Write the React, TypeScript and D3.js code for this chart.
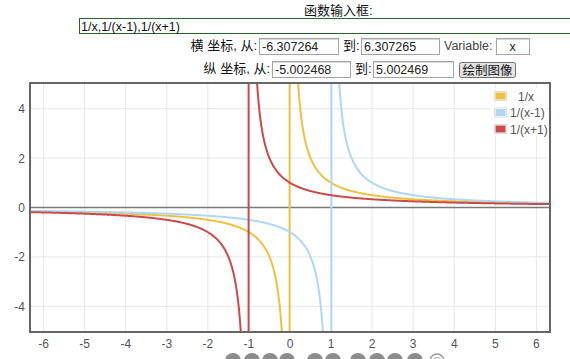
import React from "react";
import * as d3 from "d3";

// function plot settings (as typed in the form)
const functionLabels = ["1/x", "1/(x-1)", "1/(x+1)"];
const functionPoles = [0, 1, -1]; // each series is 1/(x - pole)
const seriesColors = ["#edc240", "#afd8f8", "#cb4b4b"];
const xRange = [-6.307264, 6.307265];
const yRange = [-5.002468, 5.002469];
const xTicks = [-6, -5, -4, -3, -2, -1, 0, 1, 2, 3, 4, 5, 6];
const yTicks = [-4, -2, 0, 2, 4];
const sampleCount = 1200;

const W = 570;
const H = 359;
const plot = { left: 31, right: 549, top: 84, bottom: 331 };
const font = "'Liberation Sans', Arial, 'Noto Sans CJK SC', sans-serif";

const Input = ({ x, y, w, h, text, center }: any) => (
  <g>
    <rect x={x + 0.5} y={y + 0.5} width={w} height={h} fill="#fff" stroke="#a5a5a5" />
    <line x1={x + 1} y1={y + 1.5} x2={x + w} y2={y + 1.5} stroke="#d8d8d8" />
    <text
      x={center ? x + w / 2 : x + 3}
      y={y + h / 2 + 4.5}
      textAnchor={center ? "middle" : "start"}
      fontSize={12.5}
      fill="#222"
    >
      {text}
    </text>
  </g>
);

export default function App() {
  const x = d3.scaleLinear().domain(xRange).range([plot.left, plot.right]);
  const y = d3.scaleLinear().domain(yRange).range([plot.bottom, plot.top]);

  const xs = d3.range(sampleCount + 1).map(
    (i) => xRange[0] + (i * (xRange[1] - xRange[0])) / sampleCount
  );
  const line = d3
    .line<[number, number]>()
    .x((d) => x(d[0]))
    .y((d) => y(Math.max(-1000, Math.min(1000, d[1]))));

  const series = functionPoles.map((p) =>
    xs.map((v) => [v, 1 / (v - p)] as [number, number])
  );

  const navGroups = [
    [233, 252, 270, 287],
    [315, 333],
    [358, 377, 395, 415],
  ];

  return (
    <div style={{ position: "absolute", left: 0, top: 0 }}>
      <svg width={W} height={H} style={{ display: "block", fontFamily: font }}>
        <rect width={W} height={H} fill="#fff" />

        {/* form */}
        <text x={304} y={15} fontSize={13} fill="#111">函数输入框:</text>
        <rect x={79.5} y={18.5} width={500} height={15} fill="#fff" stroke="#2f5f2f" />
        <text x={81} y={30.5} fontSize={12.5} fill="#111">{"1/x,1/(x-1),1/(x+1)"}</text>

        <text x={257} y={50} textAnchor="end" fontSize={13} fill="#111">横 坐标, 从:</text>
        <Input x={259} y={38} w={79} h={16} text="-6.307264" />
        <text x={343} y={50} fontSize={13} fill="#111">到:</text>
        <Input x={361} y={38} w={78} h={16} text="6.307265" />
        <text x={444} y={50} fontSize={12.5} fill="#444">Variable:</text>
        <Input x={496} y={38} w={33} h={16} text="x" center />

        <text x={270} y={73} textAnchor="end" fontSize={13} fill="#111">纵 坐标, 从:</text>
        <Input x={272} y={61} w={78} h={16} text="-5.002468" />
        <text x={355} y={73} fontSize={13} fill="#111">到:</text>
        <Input x={373} y={61} w={80} h={16} text="5.002469" />
        <rect x={459.5} y={62.5} width={56} height={15} rx={2} fill="#e4e4e4" stroke="#707070" />
        <text x={487.5} y={74.5} textAnchor="middle" fontSize={12.5} fill="#111">绘制图像</text>

        {/* grid */}
        <g stroke="#e6e6e6" strokeWidth={1}>
          {xTicks.map((t) => (
            <line key={"gx" + t} x1={x(t)} x2={x(t)} y1={plot.top} y2={plot.bottom} />
          ))}
          {yTicks.map((t) => (
            <line key={"gy" + t} x1={plot.left} x2={plot.right} y1={y(t)} y2={y(t)} />
          ))}
        </g>

        <defs>
          <clipPath id="plotClip">
            <rect x={plot.left} y={plot.top} width={plot.right - plot.left} height={plot.bottom - plot.top} />
          </clipPath>
        </defs>

        <line x1={plot.left} x2={plot.right} y1={y(0)} y2={y(0)} stroke="#7a7a7a" strokeWidth={1.5} />

        <g clipPath="url(#plotClip)">
          {series.map((s, i) => (
            <path key={i} d={line(s) || ""} fill="none" stroke={seriesColors[i]} strokeWidth={2} />
          ))}
        </g>

        {/* border */}
        <rect
          x={plot.left - 1}
          y={plot.top - 1}
          width={plot.right - plot.left + 2}
          height={plot.bottom - plot.top + 2}
          fill="none"
          stroke="#666"
          strokeWidth={2}
        />

        {/* axes labels */}
        <g fontSize={12} fill="#545454">
          {xTicks.map((t) => (
            <text key={"tx" + t} x={x(t)} y={348} textAnchor="middle">{t}</text>
          ))}
          {yTicks.map((t) => (
            <text key={"ty" + t} x={25} y={y(t) + 4.5} textAnchor="end">{t}</text>
          ))}
        </g>

        {/* legend */}
        <rect x={491} y={88} width={56} height={48} fill="#fff" opacity={0.85} />
        {functionLabels.map((lab, i) => (
          <g key={lab} transform={`translate(494,${96 + i * 16.5})`}>
            <rect x={0.5} y={-4.5} width={12} height={9} fill="#fff" stroke="#ddd" />
            <rect x={1.5} y={-3.5} width={10} height={7} fill={seriesColors[i]} />
            <text x={i === 0 ? 24 : 16} y={4.5} fontSize={12} fill="#545454">{lab}</text>
          </g>
        ))}

        {/* navigation buttons */}
        {navGroups.flat().map((cx) => (
          <circle key={cx} cx={cx} cy={361} r={8} fill="#8c8c8c" />
        ))}
        <circle cx={437} cy={361} r={7} fill="none" stroke="#9a9a9a" strokeWidth={1.5} />
        <circle cx={437} cy={361} r={3.5} fill="none" stroke="#9a9a9a" strokeWidth={1} />
      </svg>
    </div>
  );
}
